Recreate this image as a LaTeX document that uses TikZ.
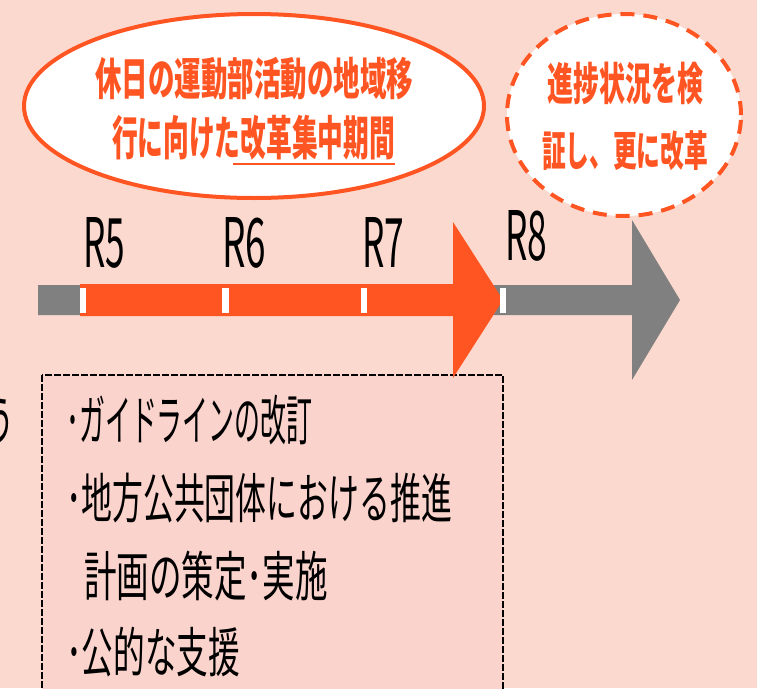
\documentclass[tikz,border=0pt]{standalone}
\usepackage{fontspec}
\usepackage{graphicx}
\setmainfont{Noto Sans CJK JP}
\usetikzlibrary{shapes.geometric}
\definecolor{bgpink}{HTML}{FCD9CE}
\definecolor{boxpink}{HTML}{FBD3CD}
\definecolor{orng}{HTML}{FF5522}
\definecolor{grayarrow}{HTML}{808080}
\newcommand\fitbox[3]{\resizebox*{#1}{#2}{#3}}
\tikzset{
  txt/.style={inner sep=0pt, outer sep=0pt},
  otxt/.style={txt, text=orng, font=\bfseries},
  rlabel/.style={txt, anchor=base west, text=black},
  btxt/.style={txt, anchor=west, text=black},
  tick/.style={fill=white, draw=none},
}
\begin{document}
\begin{tikzpicture}[x=1pt,y=-1pt]
\useasboundingbox (0,0) rectangle (757,688);
\clip (0,0) rectangle (757,688);
\fill[bgpink] (0,0) rectangle (757,688);

% dashed box
\draw[black, line width=1.2pt, dash pattern=on 7pt off 2pt, fill=boxpink] (42,375) rectangle (503,720);

% gray arrow
\fill[grayarrow] (38,285) -- (632,285) -- (632,220) -- (680,300) -- (632,380) -- (632,315) -- (38,315) -- cycle;
% orange arrow
\fill[orng] (80,284) -- (453,284) -- (453,222) -- (503,300) -- (453,378) -- (453,316) -- (80,316) -- cycle;
% ticks
\fill[tick] (80,288) rectangle (86,313);
\fill[tick] (222,288) rectangle (229,313);
\fill[tick] (361,288) rectangle (367,313);
\fill[tick] (500,288) rectangle (506,313);

% labels
\node[rlabel] (r5) at (83,267) {\resizebox{42pt}{50pt}{R5}};
\node[rlabel] (r6) at (222,267) {\resizebox{44pt}{50pt}{R6}};
\node[rlabel] (r7) at (362,267) {\resizebox{42pt}{50pt}{R7}};
\node[rlabel] (r8) at (505,260) {\resizebox{42pt}{50pt}{R8}};

% ellipse 1
\node[ellipse, draw=orng, line width=4pt, fill=white, minimum width=460pt, minimum height=184pt, inner sep=0pt] (e1) at (254,106) {};
\node[otxt] (t1a) at (254,78.5) {\fitbox{318pt}{43pt}{休日の運動部活動の地域移}};
\node[otxt] (t1b) at (253.5,137.5) {\fitbox{283pt}{45pt}{行に向けた改革集中期間}};
\draw[orng, line width=2.5pt] (233,164) -- (395,164);

% ellipse 2
\node[ellipse, draw=orng, line width=4pt, dash pattern=on 14pt off 9pt, fill=white, minimum width=234pt, minimum height=202pt, inner sep=0pt] (e2) at (624,115) {};
\node[otxt] (t2a) at (625,83.5) {\fitbox{156pt}{43pt}{進捗状況を検}};
\node[otxt] (t2b) at (625,151) {\fitbox{166pt}{40pt}{証し、更に改革}};

% box text
\node[btxt] (b1) at (66,420) {\fitbox{247pt}{50pt}{･ガイドラインの改訂}};
\node[btxt] (b2) at (66,498) {\fitbox{386pt}{50pt}{･地方公共団体における推進}};
\node[btxt] (b3) at (84,576) {\fitbox{244pt}{50pt}{計画の策定･実施}};
\node[btxt] (b4) at (66,652) {\fitbox{174pt}{50pt}{･公的な支援}};

% partial text at left edge (cut by the picture's edge, as in the reference)
\node[txt, anchor=east, text=black] (cut) at (15,421) {\fitbox{30pt}{48pt}{う}};
\end{tikzpicture}
\end{document}
